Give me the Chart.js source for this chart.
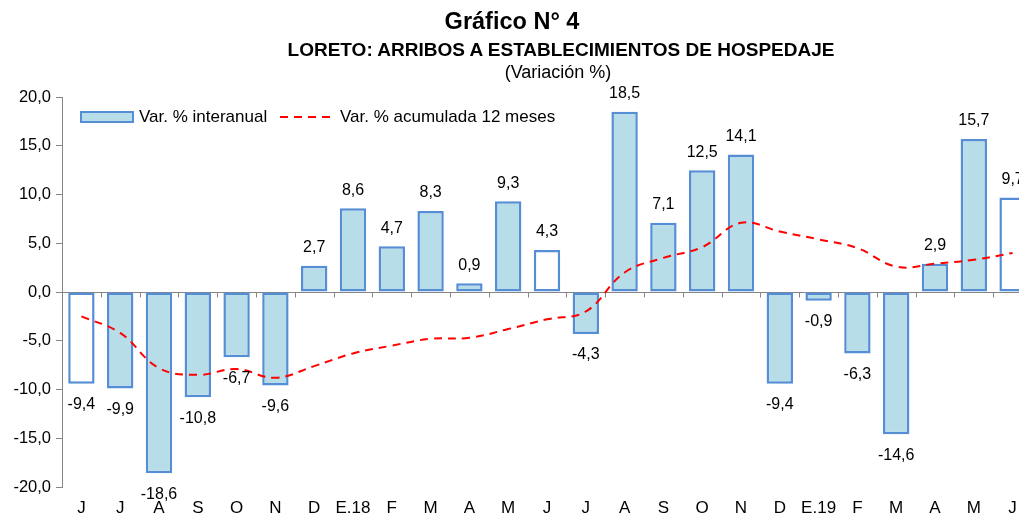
<!DOCTYPE html>
<html>
<head>
<meta charset="utf-8">
<script src="https://cdn.jsdelivr.net/npm/chart.js@4.4.1/dist/chart.umd.min.js"></script>
<style>
  html, body { margin: 0; padding: 0; background: #fff; overflow: hidden; }
  body { width: 1019px; height: 513px; font-family: Arial, "Liberation Sans", sans-serif; color: #000; }
  #wrap { position: relative; width: 1040px; height: 513px; }
  #c { position: absolute; left: 0; top: 0; }
  .t { position: absolute; white-space: nowrap; transform: translateX(-50%); }
  #t1 { left: 512px; top: 8px; font-size: 23.5px; font-weight: bold; }
  #t2 { left: 561px; top: 39px; font-size: 19px; font-weight: bold; }
  #t3 { left: 558px; top: 62px; font-size: 18px; }
  .leg { position: absolute; top: 107px; font-size: 17px; line-height: 20px; }
  .box { position: absolute; left: 80px; top: 111px; width: 50px; height: 8px; background: #b7dde8; border: 2.5px solid #558ed5; }
  .dash { position: absolute; left: 280px; top: 116px; width: 51px; height: 2px;
          background: repeating-linear-gradient(90deg, #ff0000 0 8px, transparent 8px 14px); }
</style>
</head>
<body>
<div id="wrap">
  <canvas id="c" width="1032" height="513"></canvas>
  <div class="t" id="t1">Gráfico N° 4</div>
  <div class="t" id="t2">LORETO: ARRIBOS A ESTABLECIMIENTOS DE HOSPEDAJE</div>
  <div class="t" id="t3">(Variación %)</div>
  <div class="box"></div>
  <div class="leg" style="left:139px">Var. % interanual</div>
  <div class="dash"></div>
  <div class="leg" style="left:340px">Var. % acumulada 12 meses</div>
</div>
<script>
const categories = ['J', 'J', 'A', 'S', 'O', 'N', 'D', 'E.18', 'F', 'M', 'A', 'M', 'J',
  'J', 'A', 'S', 'O', 'N', 'D', 'E.19', 'F', 'M', 'A', 'M', 'J'];
const interanual = [-9.4, -9.9, -18.6, -10.8, -6.7, -9.6, 2.7, 8.6, 4.7, 8.3, 0.9, 9.3, 4.3,
  -4.3, 18.5, 7.1, 12.5, 14.1, -9.4, -0.9, -6.3, -14.6, 2.9, 15.7, 9.7];
const acumulada = [-2.5, -4.2, -7.8, -8.5, -7.9, -8.8, -7.6, -6.3, -5.5, -4.8, -4.7, -3.8, -2.8,
  -2.0, 2.0, 3.5, 4.6, 7.1, 6.2, 5.4, 4.5, 2.6, 2.9, 3.3, 4.0];
const yTicks = [-20, -15, -10, -5, 0, 5, 10, 15, 20];

const fmt = v => v.toFixed(1).replace('.', ',');
const axisGray = '#868686';
const font = 'Arial, "Liberation Sans", sans-serif';

// June bars (every 12th month from the start) are drawn hollow
const barFill = categories.map((c, i) => (i % 12 === 0 ? '#ffffff' : '#b7dde8'));

const zeroLine = {
  id: 'zeroLine',
  beforeDatasetsDraw(chart) {
    const { ctx, chartArea: a, scales: { y } } = chart;
    const y0 = Math.round(y.getPixelForValue(0)) + 0.5;
    const step = (a.right - a.left) / categories.length;
    ctx.save();
    ctx.strokeStyle = axisGray;
    ctx.lineWidth = 1;
    ctx.beginPath();
    ctx.moveTo(a.left, y0);
    ctx.lineTo(a.right, y0);
    for (let i = 1; i <= categories.length; i++) {
      const x = Math.round(a.left + i * step) + 0.5;
      ctx.moveTo(x, y0);
      ctx.lineTo(x, y0 + 5);
    }
    ctx.stroke();
    ctx.restore();
  }
};

const barLabels = {
  id: 'barLabels',
  afterDatasetsDraw(chart) {
    const { ctx } = chart;
    const meta = chart.getDatasetMeta(1);
    ctx.save();
    ctx.font = '16px ' + font;
    ctx.fillStyle = '#000';
    ctx.textAlign = 'center';
    ctx.textBaseline = 'middle';
    meta.data.forEach((bar, i) => {
      const v = interanual[i];
      const y = v >= 0 ? bar.y - 18 : bar.y + 21;
      ctx.fillText(fmt(v), bar.x, y);
    });
    ctx.restore();
  }
};

new Chart(document.getElementById('c'), {
  data: {
    labels: categories,
    datasets: [
      {
        type: 'line',
        label: 'Var. % acumulada 12 meses',
        data: acumulada,
        borderColor: '#ff0000',
        borderWidth: 2,
        borderDash: [8, 6],
        pointRadius: 0,
        tension: 0.4,
        fill: false,
        order: 0
      },
      {
        type: 'bar',
        label: 'Var. % interanual',
        data: interanual,
        backgroundColor: barFill,
        borderColor: '#558ed5',
        borderWidth: 2.5,
        borderSkipped: false,
        barPercentage: 0.68,
        categoryPercentage: 1,
        order: 1
      }
    ]
  },
  options: {
    responsive: false,
    animation: false,
    layout: { padding: { top: 97, right: 0, bottom: 0, left: 0 } },
    plugins: {
      legend: { display: false },
      tooltip: { enabled: false }
    },
    scales: {
      x: {
        grid: { display: false, drawTicks: false },
        border: { display: false },
        ticks: {
          color: '#000',
          padding: 11,
          maxRotation: 0,
          autoSkip: false,
          font: { family: font, size: 17 }
        },
        afterFit(scale) { scale.height = 26; }
      },
      y: {
        min: -20,
        max: 20,
        afterBuildTicks(scale) { scale.ticks = yTicks.map(v => ({ value: v })); },
        grid: { drawOnChartArea: false, color: axisGray, tickLength: 6 },
        border: { color: axisGray },
        ticks: {
          color: '#000',
          padding: 5,
          font: { family: font, size: 16.5 },
          callback: v => fmt(v)
        },
        afterFit(scale) { scale.width = 62; }
      }
    }
  },
  plugins: [zeroLine, barLabels]
});
</script>
</body>
</html>
